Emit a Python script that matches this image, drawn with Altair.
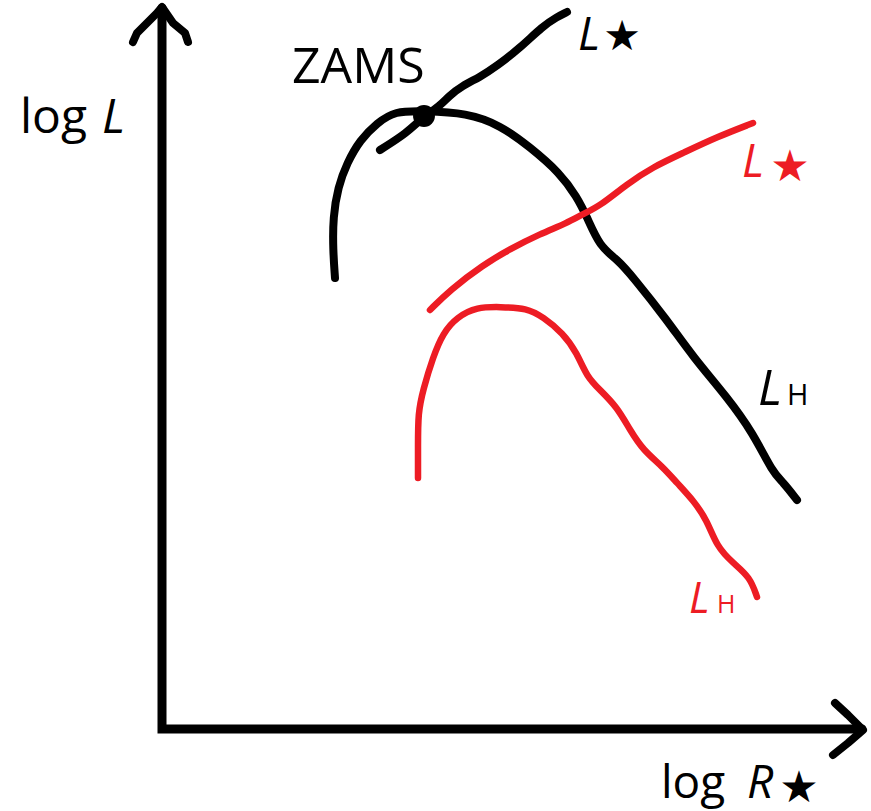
import altair as alt
import pandas as pd

# Sketch coordinates: x grows to the right (log R*), y grows downward on the page.
W, H = 871, 811

# Axes (corner at the origin) and their arrowheads
axis_x = [162, 162, 862]
axis_y = [8, 729, 729]
y_arrow_x = [133, 137, 147, 157, 162, 173, 185, 188]
y_arrow_y = [42, 33, 23, 13, 7, 23, 33, 42]
x_arrow_x = [835, 848, 863, 848, 833]
x_arrow_y = [703, 715, 730, 743, 755]

# Black track: L_H (rises from the bottom, turns over near ZAMS, falls to the right)
lh_black_x = [335, 333, 333, 338, 347, 360, 377, 395, 423, 467, 500, 530, 560,
              577, 587, 600, 617, 633, 667, 693, 727, 753, 773, 783, 797]
lh_black_y = [278, 250, 217, 187, 163, 140, 123, 111, 111, 113, 125, 147, 173,
              197, 217, 247, 259, 277, 320, 357, 397, 433, 473, 482, 500]

# Black track: L*
ls_black_x = [380, 407, 423, 440, 449, 462, 480, 497, 520, 543, 557, 567]
ls_black_y = [150, 133, 117, 106, 96, 86, 77, 66, 48, 26, 17, 12]

# Red track: L*
ls_red_x = [430, 450, 483, 510, 540, 567, 583, 600, 627, 653, 683, 717, 753]
ls_red_y = [310, 290, 265, 249, 234, 223, 214, 206, 184, 167, 153, 137, 123]

# Red track: L_H
lh_red_x = [418, 418, 418, 423, 433, 443, 457, 477, 500, 527, 543, 563, 577, 587,
            600, 617, 630, 643, 663, 677, 693, 707, 717, 733, 750, 757]
lh_red_y = [478, 447, 413, 390, 357, 333, 317, 307, 307, 308, 317, 333, 353, 377,
            390, 407, 430, 450, 467, 483, 500, 520, 547, 563, 577, 597]

# ZAMS point where the black L* and L_H curves meet
zams_x = [424]
zams_y = [116]

RED = "#ED1C24"
FONT = "Open Sans"

xs = alt.Scale(domain=[0, W], nice=False, zero=False)
ys = alt.Scale(domain=[0, H], nice=False, zero=False, reverse=True)


def polyline(px, py, color, width, interp="basis", join="round"):
    df = pd.DataFrame({"x": px, "y": py, "i": list(range(len(px)))})
    return alt.Chart(df).mark_line(
        color=color, strokeWidth=width, strokeCap="round", strokeJoin=join,
        interpolate=interp,
    ).encode(
        x=alt.X("x:Q", scale=xs, axis=None),
        y=alt.Y("y:Q", scale=ys, axis=None),
        order="i:Q",
    )


def label(tx, ty, text, color="black", size=48, style="normal",
          align="left", baseline="alphabetic", font=FONT):
    df = pd.DataFrame({"x": [tx], "y": [ty], "t": [text]})
    return alt.Chart(df).mark_text(
        color=color, fontSize=size, fontStyle=style, font=font,
        align=align, baseline=baseline,
    ).encode(
        x=alt.X("x:Q", scale=xs, axis=None),
        y=alt.Y("y:Q", scale=ys, axis=None),
        text="t:N",
    )


layers = [
    polyline(axis_x, axis_y, "black", 9, interp="linear", join="miter"),
    polyline(y_arrow_x, y_arrow_y, "black", 8, interp="linear"),
    polyline(x_arrow_x, x_arrow_y, "black", 8, interp="linear"),
    polyline(lh_black_x, lh_black_y, "black", 8),
    polyline(ls_black_x, ls_black_y, "black", 8),
    polyline(ls_red_x, ls_red_y, RED, 6.5),
    polyline(lh_red_x, lh_red_y, RED, 6.5),
    alt.Chart(pd.DataFrame({"x": zams_x, "y": zams_y})).mark_point(
        filled=True, color="black", opacity=1, size=480, shape="circle"
    ).encode(
        x=alt.X("x:Q", scale=xs, axis=None),
        y=alt.Y("y:Q", scale=ys, axis=None),
    ),
    # axis titles
    label(20, 133, "log", size=48),
    label(102, 133, "L", size=48, style="italic"),
    label(661, 798, "log", size=46),
    label(747, 798, "R", size=46, style="italic"),
    label(799, 789, "★", size=44, align="center", baseline="middle", font="DejaVu Sans"),
    # curve labels
    label(292, 83, "ZAMS", size=50),
    label(578, 50, "L", size=46, style="italic"),
    label(622, 37, "★", size=42, align="center", baseline="middle", font="DejaVu Sans"),
    label(742, 177, "L", size=46, style="italic", color=RED),
    label(790, 168, "★", size=44, align="center", baseline="middle",
          font="DejaVu Sans", color=RED),
    label(758, 405, "L", size=50, style="italic"),
    label(787, 405, "H", size=29),
    label(689, 613, "L", size=43, style="italic", color=RED),
    label(717, 613, "H", size=25, color=RED),
]

chart = alt.layer(*layers).properties(
    width=W, height=H, padding=0, autosize="none", background="white"
).configure_view(stroke=None)

chart.save("out.html", embed_options={"renderer": "svg", "actions": False})
